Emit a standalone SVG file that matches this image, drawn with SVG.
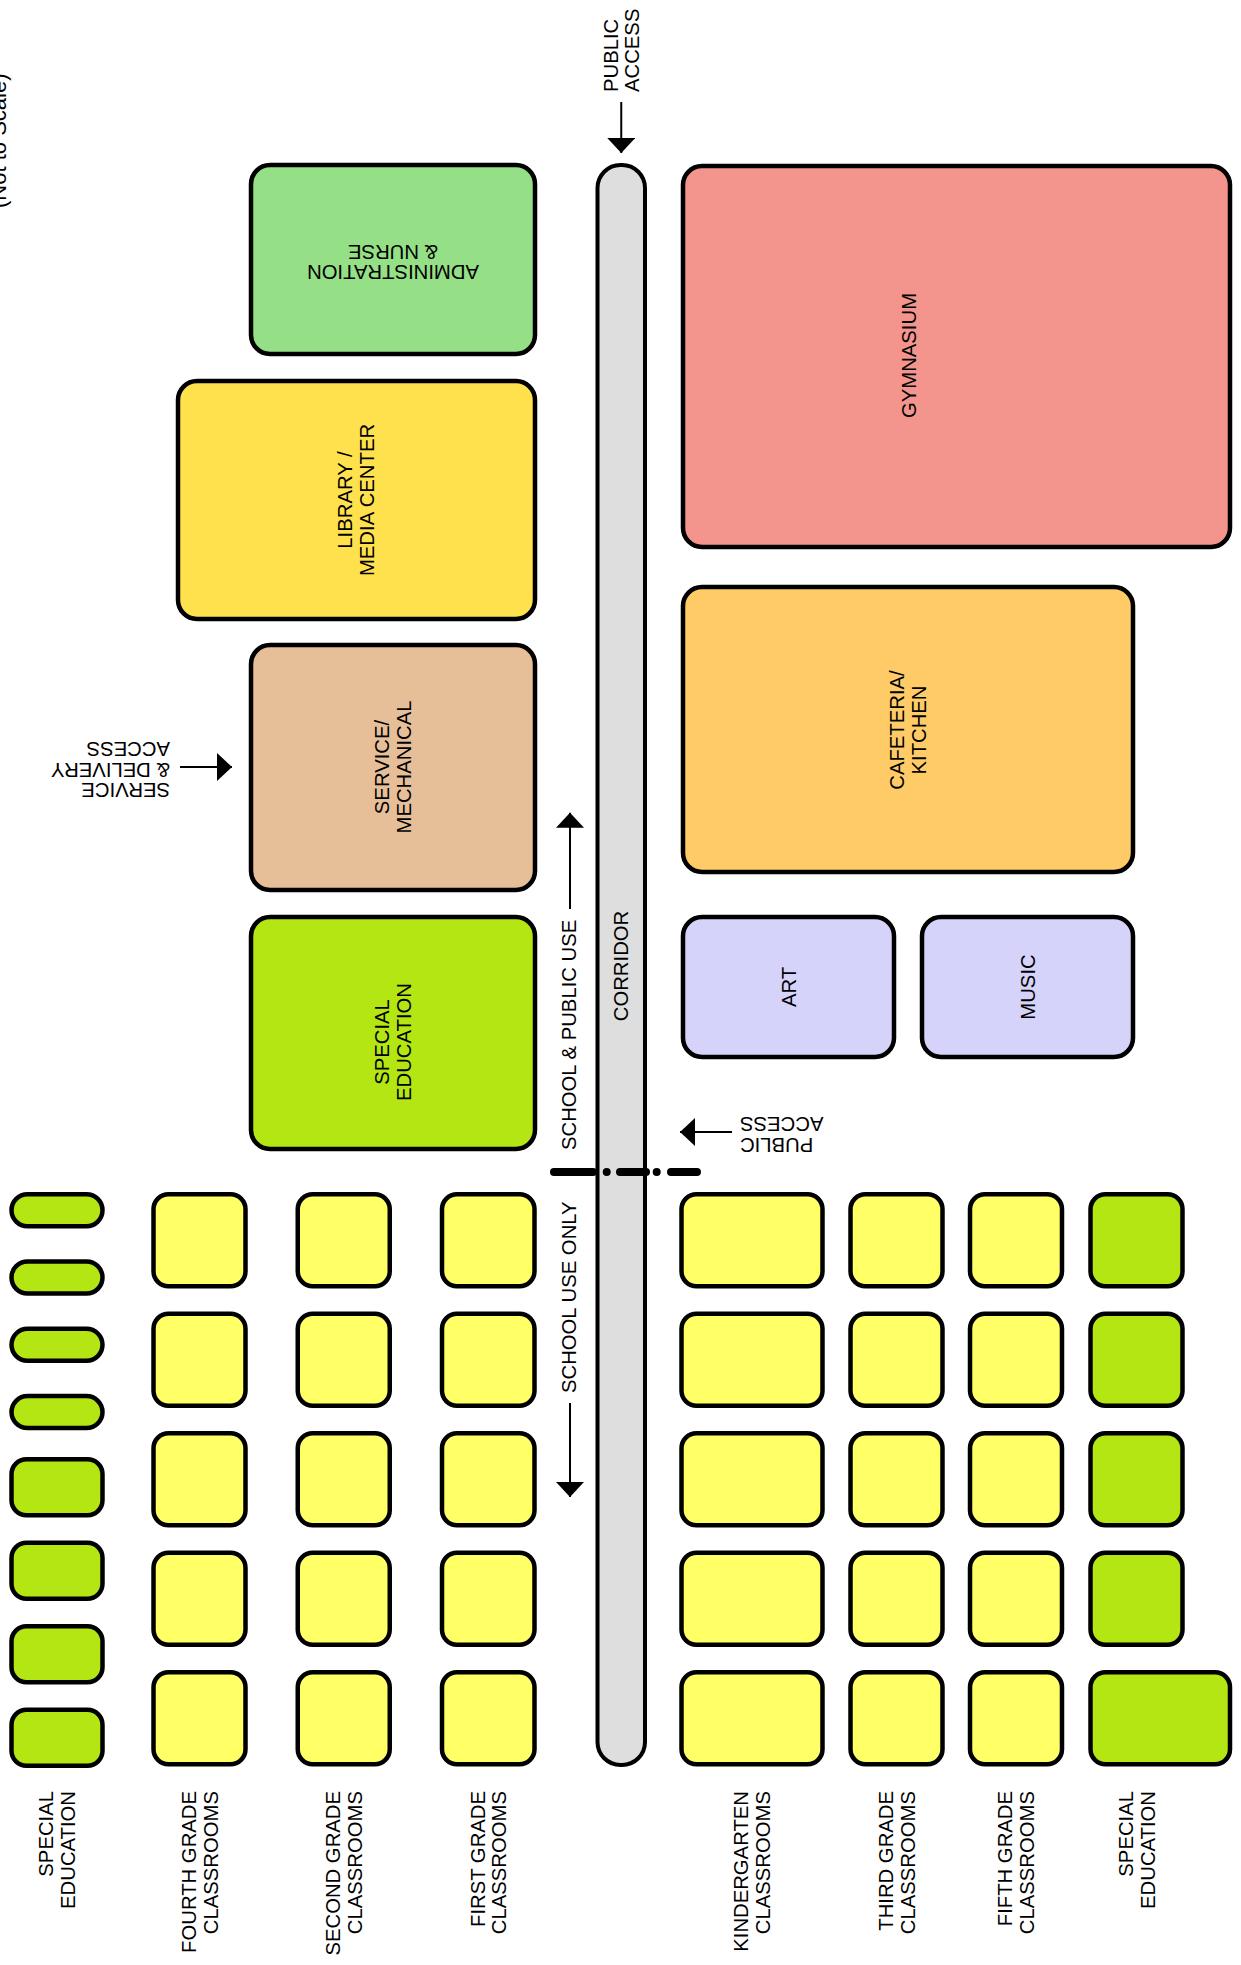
<svg xmlns="http://www.w3.org/2000/svg" width="1241" height="1965" viewBox="0 0 1241 1965">
<style>
.b{stroke:#000;stroke-width:4.5}
.big{rx:19px}
.cr{fill:#FFFF66;stroke:#000;stroke-width:4.5}
.sp{fill:#B3E612;stroke:#000;stroke-width:4.5}
.t{font-family:"Liberation Sans",Arial,Helvetica,sans-serif;font-size:20.3px;fill:#000}
.m{text-anchor:middle}
.e{text-anchor:end}
.a{stroke:#000;stroke-width:2;fill:none;marker-end:url(#ah)}
</style>
<defs>
<marker id="ah" viewBox="0 0 15 28" refX="15" refY="14" markerWidth="15" markerHeight="28" markerUnits="userSpaceOnUse" orient="auto">
<path d="M0,0 L15,14 L0,28 Z" fill="#000"/>
</marker>
</defs>
<rect width="1241" height="1965" fill="#fff"/>

<text class="t" transform="translate(6,208) rotate(-90)" style="font-size:22px">(Not to Scale)</text>

<g id="corridor">
<rect x="597.5" y="165" width="47.5" height="1600" rx="23" fill="#DEDEDE" stroke="#000" stroke-width="4"/>
<text class="t m" transform="translate(628,966) rotate(-90)">CORRIDOR</text>
</g>

<g id="admin">
<rect class="b" x="251" y="165" width="284" height="189" rx="19" fill="#95E086"/>
<text class="t m" transform="rotate(180 393 262.5)"><tspan x="393" y="260">ADMINISTRATION</tspan><tspan x="393" y="280.5">&amp; NURSE</tspan></text>
</g>

<g id="library">
<rect class="b" x="178" y="381" width="357" height="238" rx="19" fill="#FFE14D"/>
<text class="t m" transform="translate(352.4,500) rotate(-90)"><tspan x="0" y="0">LIBRARY /</tspan><tspan x="0" y="21.7">MEDIA CENTER</tspan></text>
</g>

<g id="service">
<rect class="b" x="251" y="645" width="284" height="245" rx="19" fill="#E6BF98"/>
<text class="t m" transform="translate(389.2,767) rotate(-90)"><tspan x="0" y="0">SERVICE/</tspan><tspan x="0" y="21.7">MECHANICAL</tspan></text>
</g>

<g id="special-ed-main">
<rect class="b" x="251" y="917" width="284" height="232" rx="19" fill="#B3E612"/>
<text class="t m" transform="translate(389.2,1042) rotate(-90)"><tspan x="0" y="0">SPECIAL</tspan><tspan x="0" y="21.7">EDUCATION</tspan></text>
</g>

<g id="gymnasium">
<rect class="b" x="683" y="166" width="547" height="381" rx="19" fill="#F3958D"/>
<text class="t m" transform="translate(915.5,355.5) rotate(-90)">GYMNASIUM</text>
</g>

<g id="cafeteria">
<rect class="b" x="683" y="587" width="450" height="285" rx="19" fill="#FECB67"/>
<text class="t m" transform="translate(904.4,730) rotate(-90)"><tspan x="0" y="0">CAFETERIA/</tspan><tspan x="0" y="21.7">KITCHEN</tspan></text>
</g>

<g id="art">
<rect class="b" x="683" y="917" width="211" height="140" rx="19" fill="#D5D3FA"/>
<text class="t m" transform="translate(795.7,987) rotate(-90)">ART</text>
</g>

<g id="music">
<rect class="b" x="922" y="917" width="211" height="140" rx="19" fill="#D5D3FA"/>
<text class="t m" transform="translate(1034.7,987) rotate(-90)">MUSIC</text>
</g>

<g id="special-ed-left">
<rect class="sp" x="11.5" y="1194.25" width="91" height="32" rx="16"/>
<rect class="sp" x="11.5" y="1261.5" width="91" height="32" rx="16"/>
<rect class="sp" x="11.5" y="1328.8" width="91" height="32" rx="16"/>
<rect class="sp" x="11.5" y="1396.1" width="91" height="32" rx="16"/>
<rect class="sp" x="11.5" y="1459.25" width="91" height="56" rx="15"/>
<rect class="sp" x="11.5" y="1542.75" width="91" height="56" rx="15"/>
<rect class="sp" x="11.5" y="1626.25" width="91" height="56" rx="15"/>
<rect class="sp" x="11.5" y="1709.75" width="91" height="56" rx="15"/>
<text class="t e" transform="translate(53.4,1791) rotate(-90)"><tspan x="0" y="0">SPECIAL</tspan><tspan x="0" y="21.7">EDUCATION</tspan></text>
</g>

<g id="fourth-grade">
<rect class="cr" x="153.5" y="1194.25" width="92" height="92" rx="15"/>
<rect class="cr" x="153.5" y="1313.75" width="92" height="92" rx="15"/>
<rect class="cr" x="153.5" y="1433.25" width="92" height="92" rx="15"/>
<rect class="cr" x="153.5" y="1552.75" width="92" height="92" rx="15"/>
<rect class="cr" x="153.5" y="1672.25" width="92" height="92" rx="15"/>
<text class="t e" transform="translate(195.9,1791) rotate(-90)"><tspan x="0" y="0">FOURTH GRADE</tspan><tspan x="0" y="21.7">CLASSROOMS</tspan></text>
</g>

<g id="second-grade">
<rect class="cr" x="297.75" y="1194.25" width="92" height="92" rx="15"/>
<rect class="cr" x="297.75" y="1313.75" width="92" height="92" rx="15"/>
<rect class="cr" x="297.75" y="1433.25" width="92" height="92" rx="15"/>
<rect class="cr" x="297.75" y="1552.75" width="92" height="92" rx="15"/>
<rect class="cr" x="297.75" y="1672.25" width="92" height="92" rx="15"/>
<text class="t e" transform="translate(340.2,1791) rotate(-90)"><tspan x="0" y="0">SECOND GRADE</tspan><tspan x="0" y="21.7">CLASSROOMS</tspan></text>
</g>

<g id="first-grade">
<rect class="cr" x="442" y="1194.25" width="92.5" height="92" rx="15"/>
<rect class="cr" x="442" y="1313.75" width="92.5" height="92" rx="15"/>
<rect class="cr" x="442" y="1433.25" width="92.5" height="92" rx="15"/>
<rect class="cr" x="442" y="1552.75" width="92.5" height="92" rx="15"/>
<rect class="cr" x="442" y="1672.25" width="92.5" height="92" rx="15"/>
<text class="t e" transform="translate(484.6,1791) rotate(-90)"><tspan x="0" y="0">FIRST GRADE</tspan><tspan x="0" y="21.7">CLASSROOMS</tspan></text>
</g>

<g id="kindergarten">
<rect class="cr" x="681.5" y="1194.25" width="141" height="92" rx="15"/>
<rect class="cr" x="681.5" y="1313.75" width="141" height="92" rx="15"/>
<rect class="cr" x="681.5" y="1433.25" width="141" height="92" rx="15"/>
<rect class="cr" x="681.5" y="1552.75" width="141" height="92" rx="15"/>
<rect class="cr" x="681.5" y="1672.25" width="141" height="92" rx="15"/>
<text class="t e" transform="translate(748.4,1791) rotate(-90)"><tspan x="0" y="0">KINDERGARTEN</tspan><tspan x="0" y="21.7">CLASSROOMS</tspan></text>
</g>

<g id="third-grade">
<rect class="cr" x="850.5" y="1194.25" width="92" height="92" rx="15"/>
<rect class="cr" x="850.5" y="1313.75" width="92" height="92" rx="15"/>
<rect class="cr" x="850.5" y="1433.25" width="92" height="92" rx="15"/>
<rect class="cr" x="850.5" y="1552.75" width="92" height="92" rx="15"/>
<rect class="cr" x="850.5" y="1672.25" width="92" height="92" rx="15"/>
<text class="t e" transform="translate(892.9,1791) rotate(-90)"><tspan x="0" y="0">THIRD GRADE</tspan><tspan x="0" y="21.7">CLASSROOMS</tspan></text>
</g>

<g id="fifth-grade">
<rect class="cr" x="970" y="1194.25" width="92" height="92" rx="15"/>
<rect class="cr" x="970" y="1313.75" width="92" height="92" rx="15"/>
<rect class="cr" x="970" y="1433.25" width="92" height="92" rx="15"/>
<rect class="cr" x="970" y="1552.75" width="92" height="92" rx="15"/>
<rect class="cr" x="970" y="1672.25" width="92" height="92" rx="15"/>
<text class="t e" transform="translate(1012.4,1791) rotate(-90)"><tspan x="0" y="0">FIFTH GRADE</tspan><tspan x="0" y="21.7">CLASSROOMS</tspan></text>
</g>

<g id="special-ed-right">
<rect class="sp" x="1090.5" y="1194.25" width="92" height="92" rx="15"/>
<rect class="sp" x="1090.5" y="1313.75" width="92" height="92" rx="15"/>
<rect class="sp" x="1090.5" y="1433.25" width="92" height="92" rx="15"/>
<rect class="sp" x="1090.5" y="1552.75" width="92" height="92" rx="15"/>
<rect class="sp" x="1090.5" y="1672.25" width="139.5" height="92" rx="15"/>
<text class="t e" transform="translate(1132.9,1791) rotate(-90)"><tspan x="0" y="0">SPECIAL</tspan><tspan x="0" y="21.7">EDUCATION</tspan></text>
</g>

<g id="connectors">
<line class="a" x1="621.25" y1="102" x2="621.25" y2="153"/>
<line class="a" x1="180" y1="767" x2="232" y2="767"/>
<line class="a" x1="732" y1="1132" x2="680" y2="1132"/>
<line class="a" x1="570" y1="909" x2="570" y2="812.7"/>
<line class="a" x1="570" y1="1403" x2="570" y2="1497"/>
<path d="M554,1172 H593 M606.7,1172 h0.01 M620,1172 H646 M656.7,1172 h0.01 M671,1172 H697" stroke="#000" stroke-width="8" stroke-linecap="round" fill="none"/>
</g>

<g id="labels">
<text class="t" transform="translate(617.7,92) rotate(-90)"><tspan x="0" y="0">PUBLIC</tspan><tspan x="0" y="21.7">ACCESS</tspan></text>
<text class="t" transform="rotate(180 110 770)"><tspan x="50" y="757">SERVICE</tspan><tspan x="50" y="777.5">&amp; DELIVERY</tspan><tspan x="50" y="798">ACCESS</tspan></text>
<text class="t e" transform="rotate(180 780 1134)"><tspan x="820" y="1130">PUBLIC</tspan><tspan x="820" y="1151">ACCESS</tspan></text>
<text class="t" transform="translate(576,1150) rotate(-90)">SCHOOL &amp; PUBLIC USE</text>
<text class="t" transform="translate(576,1393) rotate(-90)">SCHOOL USE ONLY</text>
</g>
</svg>
